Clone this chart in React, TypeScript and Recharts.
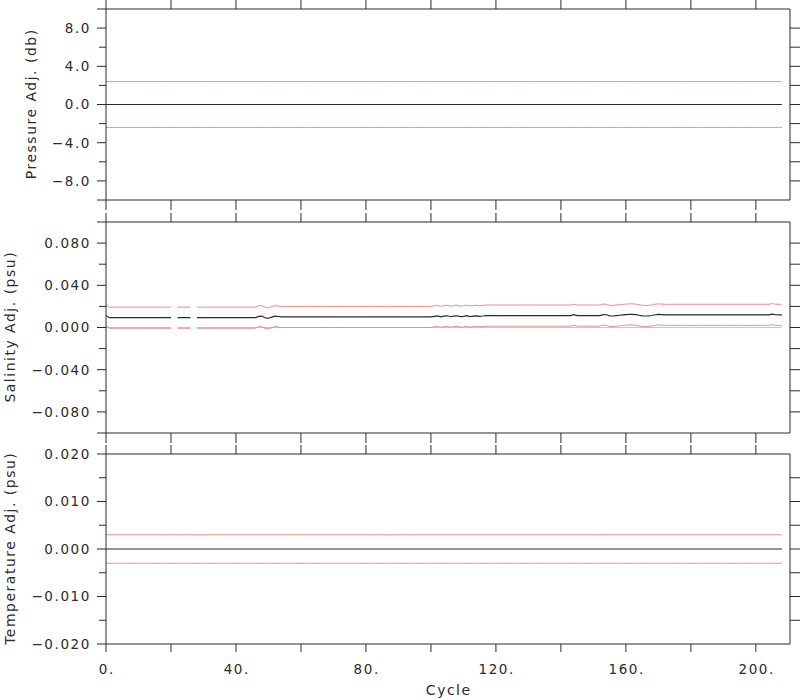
import { LineChart, Line, XAxis, YAxis } from 'recharts'

const INK = '#2b2b2b'
const RED = '#f08a8a'
const ZERO = '#c8c8c8'
const FONT = '"DejaVu Sans", sans-serif'

// cycle axis
const cycleDomain = [0, 210.5]
const cycleTicks = [0, 20, 40, 60, 80, 100, 120, 140, 160, 180, 200]
const cycleLabels = ['0.', '', '40.', '', '80.', '', '120.', '', '160.', '', '200.']
const cycles = Array.from({ length: 209 }, (_, i) => i)

// pressure panel
const PRES_ADJ = 0
const PRES_ERR = 2.4
const presTicks = [-10, -8, -6, -4, -2, 0, 2, 4, 6, 8, 10]
const presMajor = [-8, -4, 0, 4, 8]
const presLabels = ['−8.0', '−4.0', '0.0', '4.0', '8.0']

// salinity panel (null = missing cycle)
const SAL_ERR = 0.01
const salAdj: (number | null)[] = [
  0.0115, 0.0093, 0.0093, 0.0093, 0.0093, 0.0093, 0.0093, 0.0093, 0.0093, 0.0093,
  0.0093, 0.0093, 0.0093, 0.0093, 0.0093, 0.0093, 0.0093, 0.0093, 0.0093, 0.0093,
  0.0093, null, 0.0093, 0.0093, 0.0093, 0.0093, 0.0093, null, 0.0093, 0.0093,
  0.0093, 0.0093, 0.0093, 0.0093, 0.0093, 0.0093, 0.0093, 0.0093, 0.0093, 0.0093,
  0.0093, 0.0093, 0.0093, 0.0093, 0.0093, 0.0093, 0.0094, 0.0106, 0.0108, 0.0090,
  0.0088, 0.0098, 0.0108, 0.0104, 0.0100, 0.0100, 0.0100, 0.0100, 0.0100, 0.0100,
  0.0100, 0.0100, 0.0100, 0.0100, 0.0100, 0.0100, 0.0100, 0.0100, 0.0100, 0.0100,
  0.0100, 0.0100, 0.0100, 0.0100, 0.0100, 0.0100, 0.0100, 0.0100, 0.0100, 0.0100,
  0.0100, 0.0100, 0.0100, 0.0100, 0.0100, 0.0100, 0.0100, 0.0100, 0.0100, 0.0100,
  0.0100, 0.0100, 0.0100, 0.0100, 0.0100, 0.0100, 0.0100, 0.0100, 0.0100, 0.0100,
  0.0100, 0.0106, 0.0110, 0.0101, 0.0108, 0.0111, 0.0102, 0.0108, 0.0111, 0.0103,
  0.0106, 0.0112, 0.0104, 0.0108, 0.0111, 0.0106, 0.0109, 0.0113, 0.0113, 0.0113,
  0.0113, 0.0113, 0.0113, 0.0113, 0.0113, 0.0113, 0.0113, 0.0113, 0.0113, 0.0113,
  0.0113, 0.0113, 0.0113, 0.0113, 0.0113, 0.0113, 0.0113, 0.0113, 0.0113, 0.0113,
  0.0113, 0.0113, 0.0113, 0.0113, 0.0121, 0.0113, 0.0113, 0.0113, 0.0113, 0.0113,
  0.0113, 0.0113, 0.0113, 0.0122, 0.0121, 0.0110, 0.0109, 0.0113, 0.0116, 0.0119,
  0.0122, 0.0124, 0.0124, 0.0122, 0.0116, 0.0110, 0.0109, 0.0110, 0.0114, 0.0121,
  0.0124, 0.0122, 0.0120, 0.0120, 0.0120, 0.0120, 0.0120, 0.0120, 0.0120, 0.0120,
  0.0120, 0.0120, 0.0120, 0.0120, 0.0120, 0.0120, 0.0120, 0.0120, 0.0120, 0.0120,
  0.0120, 0.0120, 0.0120, 0.0120, 0.0120, 0.0120, 0.0120, 0.0120, 0.0120, 0.0120,
  0.0120, 0.0120, 0.0120, 0.0120, 0.0120, 0.0127, 0.0121, 0.0120, 0.0120,
]
const salTicks = [-0.1, -0.08, -0.06, -0.04, -0.02, 0, 0.02, 0.04, 0.06, 0.08, 0.1]
const salMajor = [-0.08, -0.04, 0, 0.04, 0.08]
const salLabels = ['−0.080', '−0.040', '0.000', '0.040', '0.080']

// temperature panel
const TEMP_ADJ = 0
const TEMP_ERR = 0.003
const tempTicks = [-0.02, -0.015, -0.01, -0.005, 0, 0.005, 0.01, 0.015, 0.02]
const tempMajor = [-0.02, -0.01, 0, 0.01, 0.02]
const tempLabels = ['−0.020', '−0.010', '0.000', '0.010', '0.020']

const presRows = cycles.map((c) => ({ cycle: c, adj: PRES_ADJ, hi: PRES_ADJ + PRES_ERR, lo: PRES_ADJ - PRES_ERR }))
const salRows = cycles.map((c, i) => {
  const a = salAdj[i]
  return { cycle: c, adj: a, hi: a == null ? null : a + SAL_ERR, lo: a == null ? null : a - SAL_ERR, zero: a == null ? null : 0 }
})
const tempRows = cycles.map((c) => ({ cycle: c, adj: TEMP_ADJ, hi: TEMP_ADJ + TEMP_ERR, lo: TEMP_ADJ - TEMP_ERR }))

const txt = { fill: INK, fontFamily: FONT, fontSize: 13.5, letterSpacing: 1.6 }

const leftTick = (ticks: number[], major: number[], labels: string[]) => (p: any) => {
  const v = p.payload.value
  const i = major.indexOf(v)
  const end = v === ticks[0] || v === ticks[ticks.length - 1]
  const len = i >= 0 || end ? 9 : 7
  return (
    <g>
      <line x1={p.x - len} y1={p.y} x2={p.x} y2={p.y} stroke={INK} />
      {i >= 0 && (
        <text x={p.x - 15} y={p.y} dy="0.36em" textAnchor="end" {...txt}>{labels[i]}</text>
      )}
    </g>
  )
}

const rightTick = (ticks: number[]) => (p: any) => {
  const v = p.payload.value
  if (v === ticks[0] || v === ticks[ticks.length - 1]) return <g />
  return <line x1={p.x} y1={p.y} x2={p.x + 10} y2={p.y} stroke={INK} />
}

const topTick = (len: number) => (p: any) => <line x1={p.x} y1={p.y - len} x2={p.x} y2={p.y} stroke={INK} />

const bottomTick = (len: number, withLabels: boolean) => (p: any) => {
  const i = cycleTicks.indexOf(p.payload.value)
  return (
    <g>
      <line x1={p.x} y1={p.y} x2={p.x} y2={p.y + len} stroke={INK} />
      {withLabels && cycleLabels[i] && (
        <text x={p.x} dx={0.8} y={p.y + 25} dy="0.36em" textAnchor="middle" {...txt}>{cycleLabels[i]}</text>
      )}
    </g>
  )
}

function Panel({ top, height, topH, bottomH, rows, domain, ticks, major, labels, topLen, bottomLen, withLabels, zero }:
  { top: number; height: number; topH: number; bottomH: number; rows: any[]; domain: number[]; ticks: number[];
    major: number[]; labels: string[]; topLen: number; bottomLen: number; withLabels: boolean; zero?: boolean }) {
  const axisCommon = { tickLine: false, tickSize: 0, tickMargin: 0, interval: 0 as const, axisLine: { stroke: INK } }
  return (
    <div style={{ position: 'absolute', left: 0, top }}>
      <LineChart width={800} height={height} data={rows} margin={{ top: 0, right: 0, bottom: 0, left: 0 }}>
        <XAxis xAxisId="top" orientation="top" type="number" dataKey="cycle" domain={cycleDomain} ticks={cycleTicks}
          allowDataOverflow height={topH} tick={topTick(topLen)} {...axisCommon} />
        <XAxis type="number" dataKey="cycle" domain={cycleDomain} ticks={cycleTicks}
          allowDataOverflow height={bottomH} tick={bottomTick(bottomLen, withLabels)} {...axisCommon} />
        <YAxis type="number" domain={domain} ticks={ticks} allowDataOverflow width={106}
          tick={leftTick(ticks, major, labels)} {...axisCommon} />
        <YAxis yAxisId="right" orientation="right" type="number" domain={domain} ticks={ticks} allowDataOverflow width={10}
          tick={rightTick(ticks)} {...axisCommon} />
        {zero && <Line dataKey="zero" stroke={ZERO} strokeWidth={1.2} dot={false} activeDot={false} isAnimationActive={false} />}
        <Line dataKey="hi" stroke={RED} strokeWidth={1} dot={false} activeDot={false} isAnimationActive={false} />
        <Line dataKey="lo" stroke={RED} strokeWidth={1} dot={false} activeDot={false} isAnimationActive={false} />
        <Line dataKey="adj" stroke={INK} strokeWidth={1.2} dot={false} activeDot={false} isAnimationActive={false} />
      </LineChart>
    </div>
  )
}

const titleTxt = { fill: INK, fontFamily: FONT, fontSize: 14, letterSpacing: 1.5 }

export default function App() {
  return (
    <div style={{ position: 'absolute', left: 0, top: 0, width: 800, height: 700, background: '#fff' }}>
      <Panel top={0} height={211} topH={9} bottomH={11} rows={presRows} domain={[-10, 10]} ticks={presTicks}
        major={presMajor} labels={presLabels} topLen={9} bottomLen={10} withLabels={false} />
      <Panel top={211} height={233} topH={11} bottomH={11} rows={salRows} domain={[-0.1, 0.1]} ticks={salTicks}
        major={salMajor} labels={salLabels} topLen={9} bottomLen={10} withLabels={false} zero />
      <Panel top={444} height={256} topH={10} bottomH={56} rows={tempRows} domain={[-0.02, 0.02]} ticks={tempTicks}
        major={tempMajor} labels={tempLabels} topLen={9} bottomLen={8} withLabels />
      <svg width={800} height={700} style={{ position: 'absolute', left: 0, top: 0, pointerEvents: 'none' }}>
        <text transform="translate(36,104.5) rotate(-90)" dx={0.75} textAnchor="middle" {...titleTxt}>Pressure Adj. (db)</text>
        <text transform="translate(15,327.5) rotate(-90)" dx={0.75} textAnchor="middle" {...titleTxt}>Salinity Adj. (psu)</text>
        <text transform="translate(15,549) rotate(-90)" dx={0.75} textAnchor="middle" {...titleTxt}>Temperature Adj. (psu)</text>
        <text x={448} y={695} dx={0.75} textAnchor="middle" {...titleTxt}>Cycle</text>
      </svg>
    </div>
  )
}
